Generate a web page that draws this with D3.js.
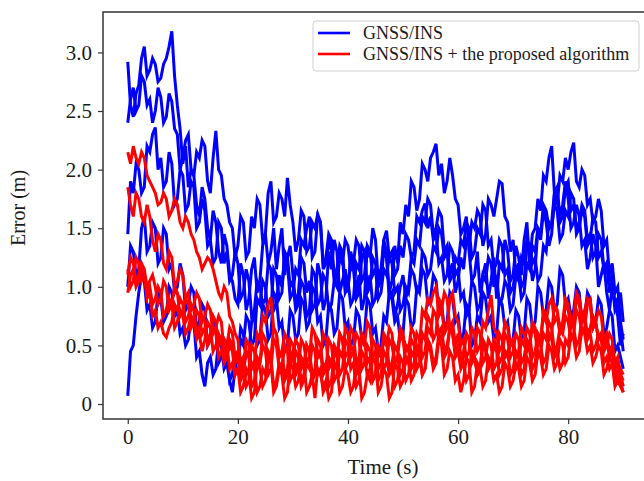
<!DOCTYPE html>
<html>
<head>
<meta charset="utf-8">
<script src="https://cdn.jsdelivr.net/npm/d3@7"></script>
<style>
  body { margin: 0; background: #fff; }
  text { font-family: "Liberation Serif", "Times New Roman", serif; }
</style>
</head>
<body>
<div id="chart"></div>
<script>
// sample times (s), two samples per second
var timeSec = d3.range(0, 90.5, 0.5);

// GNSS/INS runs (one row = 10 s)
var blue1 = [
  2.92,2.55,2.45,2.65,2.72,2.95,3.05,2.8,2.85,2.95,2.9,2.75,2.78,2.9,2.95,3.05,3.18,2.8,2.55,2.35,
  2.05,2.2,1.85,2.0,1.95,1.7,1.6,1.85,1.75,1.5,1.4,1.65,1.55,1.3,1.2,1.45,1.35,1.1,1.05,0.9,
  0.85,1.2,1.1,0.8,0.9,1.15,1.25,0.95,1.05,1.35,1.45,1.2,1.3,1.5,1.15,1.35,1.5,1.1,1.25,1.35,
  1.1,0.85,0.95,1.25,1.2,0.95,1.05,0.8,0.85,1.2,1.1,0.8,0.9,1.3,1.15,1.4,1.3,0.95,1.05,1.15,
  0.95,1.3,1.2,0.95,1.1,0.8,0.9,1.35,1.25,1.5,1.4,1.05,1.15,1.4,1.3,0.95,1.05,1.35,1.2,1.55,
  1.45,1.7,1.6,1.9,1.85,1.65,1.75,2.05,2.0,1.9,2.1,2.15,2.22,1.95,2.05,1.8,1.9,2.1,1.95,1.75,
  1.7,1.45,1.5,1.6,1.3,1.05,1.1,1.3,0.95,1.1,1.2,0.9,1.05,1.25,0.9,1.2,1.15,1.4,1.3,1.05,
  1.1,1.35,1.25,1.1,1.4,1.55,1.2,1.45,1.5,1.75,1.65,1.95,1.9,2.1,2.2,1.8,1.85,1.6,1.7,1.9,
  1.75,1.5,1.55,1.7,1.6,1.35,1.4,1.15,1.25,1.45,1.35,1.0,1.1,1.2,0.95,0.8,1.0,0.85,0.75,0.5,
  0.6];
var blue2 = [
  2.4,2.6,2.7,2.5,2.55,2.8,2.75,2.55,2.6,2.4,2.5,2.7,2.62,2.4,2.45,2.65,2.58,2.35,2.3,2.0,
  2.1,2.25,2.3,2.0,1.95,2.15,2.1,2.25,2.2,1.9,1.8,2.1,2.33,2.0,1.95,1.75,1.7,1.55,1.5,1.25,
  1.35,1.6,1.55,1.25,1.3,1.6,1.5,1.75,1.7,1.4,1.45,1.8,1.9,1.55,1.6,1.8,1.75,1.6,1.93,1.7,
  1.55,1.3,1.4,1.65,1.6,1.3,1.35,1.55,1.5,1.62,1.55,1.15,1.2,1.4,1.3,1.05,1.1,1.3,1.25,0.95,
  1.0,1.2,1.15,0.9,0.95,1.25,1.3,1.0,1.1,0.85,0.9,1.15,1.05,1.3,1.25,0.9,0.95,0.75,0.85,1.0,
  1.1,0.9,1.0,1.25,1.2,1.4,1.35,1.6,1.55,1.75,1.7,1.45,1.5,1.65,1.6,1.3,1.35,1.1,1.2,0.95,
  1.05,1.25,1.15,1.4,1.35,1.55,1.5,1.65,1.6,1.35,1.45,1.75,1.7,1.6,1.75,1.9,1.88,1.6,1.55,1.3,
  1.4,1.1,1.2,1.0,1.05,1.35,1.3,1.05,1.15,1.5,1.4,1.65,1.55,1.35,1.45,1.8,1.7,1.95,1.9,2.1,
  2.0,2.15,2.23,1.9,1.85,2.0,1.95,1.7,1.75,1.55,1.6,1.75,1.65,1.35,1.4,1.1,1.2,0.95,1.0,0.7,
  0.55];
var blue3 = [
  1.45,1.9,1.8,2.05,2.0,1.8,1.85,2.2,2.15,2.3,2.36,2.0,2.1,1.85,1.9,2.15,2.05,1.7,1.75,2.0,
  1.95,1.65,1.7,1.9,1.85,1.5,1.55,1.75,1.65,1.35,1.4,1.2,1.25,1.55,1.5,1.2,1.3,1.05,1.1,1.3,
  1.2,0.9,0.95,1.15,1.05,0.75,0.8,1.05,1.0,0.85,0.9,1.2,1.15,0.8,0.85,1.1,1.0,1.25,1.2,0.9,
  0.95,1.15,1.1,1.4,1.35,1.5,1.6,1.25,1.3,1.6,1.55,1.2,1.25,1.45,1.4,1.1,1.15,1.35,1.3,1.0,
  1.05,0.85,0.9,1.2,1.15,1.35,1.3,0.95,1.0,1.25,1.2,1.0,1.05,1.4,1.48,1.25,1.3,1.1,1.15,1.35,
  1.25,1.45,1.4,1.25,1.3,1.6,1.55,1.65,1.71,1.5,1.6,1.4,1.45,1.2,1.25,1.05,1.1,1.35,1.3,1.1,
  1.15,0.9,0.95,0.75,0.8,1.05,1.0,0.8,0.85,1.1,1.05,1.25,1.2,1.0,1.1,0.85,0.9,1.05,1.0,0.8,
  0.85,1.1,1.05,1.25,1.2,1.4,1.35,1.2,1.25,1.05,1.1,1.35,1.3,1.55,1.5,1.7,1.65,1.4,1.45,1.65,
  1.6,1.8,1.75,1.45,1.5,1.65,1.6,1.35,1.4,1.6,1.55,1.25,1.3,1.15,1.2,0.95,1.05,0.8,0.85,0.95,
  0.7];
var blue4 = [
  0.07,0.45,0.5,0.75,0.95,1.1,1.05,0.8,0.85,0.65,0.7,0.95,0.9,0.7,0.75,1.0,0.95,0.75,0.8,0.6,
  0.65,0.5,0.55,0.75,0.7,0.4,0.45,0.25,0.15,0.35,0.4,0.25,0.3,0.55,0.5,0.3,0.35,0.2,0.1,0.3,
  0.4,0.65,0.6,0.4,0.45,0.7,0.75,0.5,0.55,0.85,0.8,0.55,0.6,0.95,0.9,0.65,0.7,0.45,0.5,0.8,
  0.75,0.55,0.6,0.9,0.85,0.65,0.7,1.0,0.95,0.7,0.75,0.5,0.55,0.85,0.8,0.6,0.65,0.95,0.9,0.65,
  0.7,0.5,0.55,0.8,0.75,0.55,0.6,0.9,0.85,0.6,0.65,0.45,0.5,0.75,0.7,0.95,0.9,0.7,0.75,0.55,
  0.6,0.9,0.85,0.65,0.7,1.0,0.95,1.15,1.1,0.85,0.9,1.1,1.05,0.8,0.85,0.65,0.7,0.95,0.9,0.7,
  0.75,0.55,0.6,0.85,0.8,0.5,0.55,0.75,0.7,0.95,0.9,0.7,0.75,0.55,0.6,0.9,0.85,0.65,0.7,0.5,
  0.55,0.8,0.75,0.55,0.6,0.9,0.85,0.65,0.7,1.0,0.95,0.75,0.8,1.05,1.0,0.8,0.85,1.15,1.1,0.85,
  0.9,0.75,0.8,1.0,0.95,0.7,0.75,0.95,0.9,0.65,0.7,0.9,0.85,0.6,0.65,0.8,0.75,0.45,0.5,0.4,
  0.3];
var blue5 = [
  1.0,1.35,1.3,1.1,1.15,1.5,1.6,1.3,1.35,1.55,1.5,1.2,1.25,1.5,1.45,1.15,1.2,0.95,1.0,1.2,
  1.1,0.8,0.85,1.0,0.95,0.65,0.7,0.85,0.8,0.5,0.55,0.7,0.65,0.35,0.4,0.55,0.5,0.2,0.25,0.45,
  0.35,0.55,0.5,0.75,0.7,0.5,0.55,0.9,0.85,1.05,1.0,0.75,0.8,1.15,1.1,0.9,0.95,1.3,1.25,1.0,
  1.05,0.8,0.85,1.05,1.0,0.75,0.8,1.15,1.1,0.85,0.9,1.1,1.05,0.8,0.85,1.05,1.0,1.25,1.2,1.4,
  1.35,1.15,1.2,1.4,1.35,1.05,1.1,1.35,1.3,1.1,1.15,0.9,0.95,1.15,1.1,1.25,1.2,0.95,1.0,0.8,
  0.85,1.0,0.95,1.15,1.1,0.95,1.0,1.3,1.25,1.1,1.15,1.35,1.3,1.5,1.45,1.25,1.3,1.05,1.1,1.25,
  1.2,1.4,1.35,1.55,1.5,1.25,1.3,1.5,1.45,1.7,1.65,1.35,1.4,1.15,1.2,1.4,1.35,1.1,1.15,0.95,
  1.0,1.15,1.1,0.9,0.95,1.2,1.15,1.35,1.3,1.5,1.45,1.7,1.65,1.5,1.55,1.8,1.75,1.55,1.6,1.85,
  1.9,1.65,1.7,1.5,1.55,1.7,1.65,1.4,1.45,1.25,1.3,1.45,1.4,1.15,1.2,1.05,1.1,0.85,0.9,0.65,
  0.45];

// GNSS/INS + the proposed algorithm runs
var red1 = [
  2.15,2.05,2.2,2.1,2.05,2.15,2.1,1.95,1.9,1.85,1.8,1.7,1.72,1.8,1.75,1.6,1.65,1.75,1.7,1.55,
  1.5,1.6,1.55,1.45,1.4,1.3,1.25,1.15,1.2,1.25,1.22,1.15,1.05,0.95,0.9,1.0,0.95,0.75,0.7,0.6,
  0.55,0.35,0.4,0.25,0.3,0.5,0.45,0.3,0.35,0.6,0.55,0.35,0.4,0.65,0.6,0.4,0.45,0.25,0.3,0.55,
  0.5,0.3,0.35,0.2,0.25,0.5,0.45,0.25,0.3,0.55,0.5,0.3,0.35,0.15,0.2,0.45,0.4,0.6,0.55,0.3,
  0.35,0.5,0.45,0.25,0.3,0.6,0.55,0.35,0.4,0.2,0.25,0.5,0.45,0.3,0.35,0.55,0.5,0.35,0.4,0.25,
  0.3,0.5,0.45,0.65,0.6,0.45,0.5,0.8,0.75,0.9,0.85,0.95,1.0,0.75,0.8,0.95,0.9,0.65,0.7,0.5,
  0.6,0.4,0.45,0.6,0.55,0.35,0.4,0.25,0.3,0.55,0.5,0.3,0.35,0.5,0.45,0.25,0.3,0.45,0.4,0.55,
  0.5,0.3,0.35,0.55,0.5,0.65,0.6,0.4,0.45,0.6,0.55,0.75,0.7,0.85,0.9,0.7,0.75,0.6,0.65,0.85,
  0.8,0.65,0.7,0.9,0.85,0.7,0.75,0.6,0.65,0.75,0.7,0.55,0.6,0.45,0.5,0.6,0.55,0.3,0.35,0.3,
  0.25];
var red2 = [
  1.85,1.7,1.6,1.8,1.75,1.6,1.55,1.7,1.6,1.4,1.3,1.45,1.4,1.2,1.15,1.3,1.25,1.0,1.05,1.15,
  1.1,0.9,0.95,0.8,0.85,0.95,0.9,0.7,0.75,0.85,0.8,0.6,0.65,0.75,0.7,0.45,0.5,0.65,0.6,0.4,
  0.45,0.25,0.3,0.55,0.5,0.3,0.35,0.6,0.55,0.75,0.7,0.85,0.91,0.65,0.6,0.4,0.45,0.6,0.55,0.35,
  0.4,0.25,0.3,0.55,0.5,0.35,0.4,0.65,0.6,0.4,0.45,0.25,0.3,0.55,0.5,0.3,0.35,0.6,0.55,0.4,
  0.45,0.65,0.6,0.35,0.4,0.55,0.5,0.7,0.65,0.4,0.45,0.3,0.35,0.55,0.5,0.65,0.6,0.35,0.4,0.6,
  0.55,0.35,0.4,0.55,0.5,0.3,0.35,0.6,0.55,0.75,0.7,0.55,0.6,0.9,0.85,0.6,0.65,0.9,0.95,0.75,
  0.7,0.5,0.55,0.4,0.45,0.65,0.6,0.45,0.5,0.7,0.65,0.8,0.93,0.65,0.6,0.45,0.5,0.7,0.65,0.5,
  0.55,0.4,0.45,0.65,0.6,0.45,0.5,0.7,0.65,0.5,0.55,0.8,0.75,0.55,0.6,0.85,0.8,0.65,0.7,0.9,
  0.85,0.7,0.75,0.95,0.9,0.75,0.8,0.9,0.85,0.65,0.7,0.8,0.75,0.55,0.6,0.45,0.5,0.35,0.4,0.25,
  0.15];
var red3 = [
  1.15,1.0,1.05,1.25,1.2,1.05,1.1,0.9,0.95,0.75,0.8,0.65,0.7,0.6,0.57,0.65,0.7,0.85,0.8,0.9,
  0.85,0.7,0.75,0.85,0.8,0.6,0.65,0.75,0.7,0.5,0.55,0.65,0.6,0.4,0.45,0.55,0.5,0.3,0.35,0.25,
  0.3,0.1,0.15,0.3,0.25,0.05,0.1,0.35,0.3,0.15,0.2,0.4,0.35,0.1,0.15,0.3,0.25,0.05,0.1,0.35,
  0.3,0.15,0.2,0.4,0.35,0.1,0.15,0.25,0.05,0.3,0.25,0.15,0.2,0.05,0.1,0.35,0.3,0.1,0.15,0.3,
  0.25,0.1,0.15,0.35,0.3,0.05,0.1,0.25,0.2,0.4,0.35,0.1,0.15,0.3,0.25,0.05,0.1,0.35,0.3,0.15,
  0.2,0.4,0.35,0.2,0.25,0.45,0.4,0.25,0.3,0.5,0.45,0.3,0.35,0.55,0.5,0.25,0.3,0.45,0.4,0.2,
  0.25,0.1,0.2,0.4,0.35,0.1,0.15,0.35,0.3,0.15,0.2,0.4,0.35,0.2,0.25,0.1,0.15,0.35,0.3,0.15,
  0.2,0.35,0.3,0.15,0.2,0.4,0.35,0.2,0.25,0.45,0.4,0.25,0.3,0.5,0.45,0.3,0.35,0.55,0.5,0.35,
  0.4,0.6,0.55,0.4,0.45,0.65,0.6,0.45,0.5,0.35,0.4,0.5,0.45,0.25,0.3,0.4,0.35,0.15,0.2,0.15,
  0.1];
var red4 = [
  0.95,1.1,1.15,1.0,1.05,1.15,1.1,0.95,1.0,0.85,0.9,1.0,0.95,0.75,0.8,0.9,0.85,0.65,0.7,0.8,
  0.75,0.6,0.65,0.75,0.7,0.55,0.6,0.45,0.55,0.7,0.65,0.45,0.5,0.6,0.55,0.35,0.4,0.5,0.45,0.25,
  0.3,0.2,0.25,0.45,0.4,0.15,0.2,0.4,0.35,0.5,0.45,0.25,0.3,0.55,0.5,0.3,0.35,0.2,0.25,0.45,
  0.4,0.55,0.5,0.3,0.35,0.5,0.45,0.2,0.25,0.45,0.4,0.6,0.55,0.3,0.35,0.5,0.45,0.25,0.3,0.55,
  0.5,0.3,0.35,0.15,0.2,0.45,0.4,0.25,0.3,0.55,0.5,0.2,0.25,0.45,0.4,0.25,0.3,0.15,0.2,0.4,
  0.35,0.2,0.25,0.45,0.4,0.6,0.55,0.4,0.45,0.65,0.6,0.8,0.75,0.6,0.65,0.45,0.5,0.65,0.6,0.4,
  0.45,0.3,0.35,0.2,0.25,0.45,0.4,0.25,0.3,0.5,0.45,0.3,0.35,0.55,0.5,0.35,0.4,0.6,0.55,0.4,
  0.45,0.6,0.55,0.35,0.4,0.55,0.5,0.65,0.6,0.4,0.45,0.6,0.55,0.7,0.65,0.45,0.5,0.65,0.6,0.75,
  0.7,0.55,0.6,0.8,0.75,0.6,0.65,0.85,0.89,0.65,0.7,0.55,0.6,0.5,0.55,0.4,0.45,0.25,0.3,0.25,
  0.2];
var red5 = [
  1.1,1.25,1.2,1.05,1.1,1.2,1.15,1.0,1.05,1.1,1.0,0.85,0.9,1.05,1.0,0.8,0.85,1.0,0.95,0.75,
  0.8,0.9,0.85,0.65,0.7,0.8,0.75,0.6,0.65,0.55,0.6,0.75,0.7,0.5,0.55,0.4,0.45,0.55,0.5,0.35,
  0.4,0.3,0.35,0.15,0.2,0.35,0.3,0.1,0.15,0.3,0.25,0.45,0.4,0.15,0.2,0.35,0.3,0.5,0.45,0.2,
  0.25,0.45,0.4,0.15,0.2,0.35,0.3,0.5,0.45,0.25,0.3,0.1,0.15,0.4,0.35,0.2,0.25,0.45,0.4,0.65,
  0.6,0.4,0.45,0.6,0.55,0.3,0.35,0.5,0.45,0.2,0.25,0.45,0.4,0.6,0.55,0.3,0.35,0.5,0.45,0.65,
  0.6,0.45,0.5,0.3,0.35,0.5,0.45,0.25,0.3,0.55,0.5,0.35,0.4,0.6,0.55,0.4,0.45,0.65,0.6,0.45,
  0.5,0.35,0.4,0.6,0.55,0.4,0.45,0.65,0.6,0.35,0.4,0.55,0.5,0.3,0.35,0.6,0.55,0.4,0.45,0.25,
  0.3,0.45,0.4,0.25,0.3,0.5,0.45,0.3,0.35,0.55,0.5,0.35,0.4,0.6,0.55,0.4,0.45,0.3,0.35,0.55,
  0.5,0.7,0.65,0.5,0.55,0.75,0.7,0.55,0.6,0.45,0.5,0.6,0.55,0.35,0.4,0.3,0.35,0.2,0.25,0.2,
  0.1];

var xTicks = [0, 20, 40, 60, 80];
var yTicks = [0, 0.5, 1.0, 1.5, 2.0, 2.5, 3.0];
var legendLabels = ["GNSS/INS", "GNSS/INS + the proposed algorithm"];

var svgWidth = 644;
var svgHeight = 481;

var margin = { top: 12, left: 103 };
var plotRight = 648;
var plotBottom = 419;

var svg = d3.select("#chart")
  .append("svg")
  .attr("width", svgWidth)
  .attr("height", svgHeight);

var x = d3.scaleLinear()
  .domain([-4.5, 94.5])
  .range([margin.left, plotRight]);

var y = d3.scaleLinear()
  .domain([-0.128, 3.345])
  .range([plotBottom, margin.top]);

var line = d3.line()
  .x(function(d, i) { return x(timeSec[i]); })
  .y(function(d) { return y(d); });

var plot = svg.append("g");

// blue runs first, red runs drawn over them
[blue1, blue2, blue3, blue4, blue5].forEach(function(run) {
  plot.append("path")
    .datum(run)
    .attr("fill", "none")
    .attr("stroke", "#0000ff")
    .attr("stroke-width", 3)
    .attr("d", line);
});

[red1, red2, red3, red4, red5].forEach(function(run) {
  plot.append("path")
    .datum(run)
    .attr("fill", "none")
    .attr("stroke", "#ff0000")
    .attr("stroke-width", 3)
    .attr("d", line);
});

// frame
svg.append("rect")
  .attr("x", margin.left)
  .attr("y", margin.top)
  .attr("width", plotRight - margin.left)
  .attr("height", plotBottom - margin.top)
  .attr("fill", "none")
  .attr("stroke", "#333")
  .attr("stroke-width", 1.5);

// axes
var xAxis = svg.append("g")
  .attr("transform", "translate(0," + plotBottom + ")")
  .call(d3.axisBottom(x).tickValues(xTicks).tickSize(5).tickPadding(5));

var yAxis = svg.append("g")
  .attr("transform", "translate(" + margin.left + ",0)")
  .call(d3.axisLeft(y).tickValues(yTicks).tickSize(5).tickPadding(6)
    .tickFormat(function(d) { return d === 0 ? "0" : d.toFixed(1); }));

[xAxis, yAxis].forEach(function(ax) {
  ax.select(".domain").remove();
  ax.selectAll(".tick line").attr("stroke", "#333").attr("stroke-width", 1.2);
  ax.selectAll(".tick text")
    .attr("fill", "#1a1a1a")
    .style("font-family", "'Liberation Serif', serif")
    .style("font-size", "21px");
});

// axis labels
svg.append("text")
  .attr("x", 383)
  .attr("y", 474)
  .attr("text-anchor", "middle")
  .attr("fill", "#1a1a1a")
  .style("font-size", "21px")
  .text("Time (s)");

svg.append("text")
  .attr("transform", "translate(25,208) rotate(-90)")
  .attr("text-anchor", "middle")
  .attr("fill", "#1a1a1a")
  .style("font-size", "20px")
  .text("Error (m)");

// legend
var legend = svg.append("g");

legend.append("rect")
  .attr("x", 313)
  .attr("y", 21)
  .attr("width", 326)
  .attr("height", 50)
  .attr("rx", 3)
  .attr("fill", "#fff")
  .attr("fill-opacity", 0.85)
  .attr("stroke", "#d0d0d0")
  .attr("stroke-width", 1);

var legendColors = ["#0000ff", "#ff0000"];
legendLabels.forEach(function(label, i) {
  var ly = 33 + i * 21;
  legend.append("line")
    .attr("x1", 318)
    .attr("x2", 350)
    .attr("y1", ly)
    .attr("y2", ly)
    .attr("stroke", legendColors[i])
    .attr("stroke-width", 2.6);
  legend.append("text")
    .attr("x", 363)
    .attr("y", ly + 6)
    .attr("fill", "#1a1a1a")
    .style("font-size", "18px")
    .text(label);
});
</script>
</body>
</html>
